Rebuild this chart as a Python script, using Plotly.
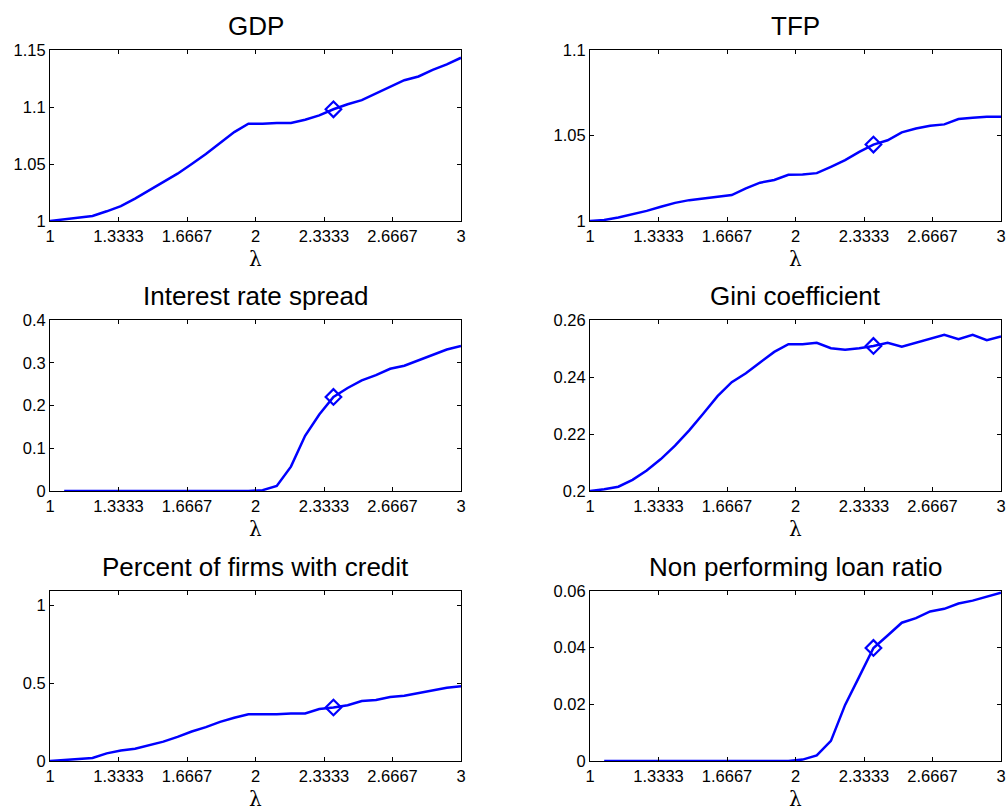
import plotly.graph_objects as go

# ---------------- data ----------------
lam = [1.0000, 1.0690, 1.1379, 1.2069, 1.2759, 1.3448, 1.4138, 1.4828, 1.5517, 1.6207,
       1.6897, 1.7586, 1.8276, 1.8966, 1.9655, 2.0345, 2.1034, 2.1724, 2.2414, 2.3103,
       2.3793, 2.4483, 2.5172, 2.5862, 2.6552, 2.7241, 2.7931, 2.8621, 2.9310, 3.0000]

gdp = [1.000, 1.0015, 1.0026, 1.0044, 1.0085, 1.0130, 1.0197, 1.0268, 1.0340, 1.0415,
       1.0500, 1.0588, 1.0685, 1.0780, 1.0853, 1.0853, 1.0860, 1.0860, 1.0888, 1.0926,
       1.0980, 1.1024, 1.1060, 1.1118, 1.1180, 1.1235, 1.1268, 1.1326, 1.1374, 1.1432]

tfp = [1.000, 1.0006, 1.0020, 1.0039, 1.0059, 1.0083, 1.0106, 1.0122, 1.0132, 1.0144,
       1.0152, 1.0191, 1.0224, 1.0240, 1.0270, 1.0272, 1.0280, 1.0317, 1.0356, 1.0404,
       1.0447, 1.0472, 1.0518, 1.0541, 1.0557, 1.0565, 1.0596, 1.0604, 1.0610, 1.0610]

spread = [None, 0.0, 0.0, 0.0, 0.0, 0.0, 0.0, 0.0, 0.0, 0.0,
          0.0, 0.0, 0.0, 0.0, 0.0, 0.002, 0.012, 0.057, 0.129, 0.179,
          0.220, 0.241, 0.259, 0.271, 0.286, 0.293, 0.306, 0.319, 0.331, 0.339]

gini = [0.2000, 0.2006, 0.2015, 0.2039, 0.2072, 0.2112, 0.2159, 0.2213, 0.2272, 0.2333,
        0.2382, 0.2413, 0.2451, 0.2488, 0.2515, 0.2515, 0.2520, 0.2501, 0.2496, 0.2501,
        0.2509, 0.2520, 0.2506, 0.2520, 0.2534, 0.2548, 0.2533, 0.2548, 0.2529, 0.2542]

credit = [0.000, 0.006, 0.013, 0.019, 0.049, 0.067, 0.079, 0.103, 0.124, 0.155,
          0.189, 0.217, 0.251, 0.277, 0.300, 0.300, 0.300, 0.305, 0.305, 0.333,
          0.343, 0.358, 0.384, 0.391, 0.410, 0.418, 0.436, 0.453, 0.470, 0.479]

npl = [None, 0.0, 0.0, 0.0, 0.0, 0.0, 0.0, 0.0, 0.0, 0.0,
       0.0, 0.0, 0.0, 0.0, 0.0, 0.0005, 0.0020, 0.0071, 0.0198, 0.0298,
       0.0399, 0.0443, 0.0488, 0.0504, 0.0528, 0.0537, 0.0556, 0.0566, 0.0580, 0.0594]

marker_index = 20  # benchmark lambda highlighted with a diamond

x_tickvals = [1, 4/3, 5/3, 2, 7/3, 8/3, 3]
x_ticktext = ["1", "1.3333", "1.6667", "2", "2.3333", "2.6667", "3"]

titles = ["GDP", "TFP", "Interest rate spread", "Gini coefficient",
          "Percent of firms with credit", "Non performing loan ratio"]
series = [gdp, tfp, spread, gini, credit, npl]
y_ranges = [[1, 1.15], [1, 1.1], [0, 0.4], [0.2, 0.26], [0, 1.09], [0, 0.06]]
y_tickvals = [[1, 1.05, 1.1, 1.15], [1, 1.05, 1.1], [0, 0.1, 0.2, 0.3, 0.4],
              [0.2, 0.22, 0.24, 0.26], [0, 0.5, 1], [0, 0.02, 0.04, 0.06]]
y_ticktext = [["1", "1.05", "1.1", "1.15"], ["1", "1.05", "1.1"],
              ["0", "0.1", "0.2", "0.3", "0.4"], ["0.2", "0.22", "0.24", "0.26"],
              ["0", "0.5", "1"], ["0", "0.02", "0.04", "0.06"]]

# ---------------- layout geometry (pixels) ----------------
W, H = 1006, 812
col_px = [(50, 461), (590, 1001)]
row_px = [(50, 221), (320, 491), (591, 761)]

FONT = "Liberation Sans, Arial, Helvetica, sans-serif"
BLUE = "#0000FF"

fig = go.Figure()
layout = dict(
    width=W, height=H, autosize=False,
    template="none",
    margin=dict(l=0, r=0, t=0, b=0, pad=0),
    paper_bgcolor="white", plot_bgcolor="white",
    showlegend=False,
    font=dict(family=FONT, color="black", size=16),
    annotations=[],
)

for k in range(6):
    r, c = divmod(k, 2)
    xa = "xaxis" if k == 0 else f"xaxis{k+1}"
    ya = "yaxis" if k == 0 else f"yaxis{k+1}"
    xref = "x" if k == 0 else f"x{k+1}"
    yref = "y" if k == 0 else f"y{k+1}"
    x0, x1 = col_px[c]
    top, bot = row_px[r]
    xdom = [x0 / W, x1 / W]
    ydom = [1 - bot / H, 1 - top / H]

    fig.add_trace(go.Scatter(x=lam, y=series[k], mode="lines",
                             line=dict(color=BLUE, width=2.5),
                             xaxis=xref, yaxis=yref, hoverinfo="skip"))
    fig.add_trace(go.Scatter(x=[lam[marker_index]], y=[series[k][marker_index]],
                             mode="markers",
                             marker=dict(symbol="diamond-open", size=12,
                                         color=BLUE, line=dict(color=BLUE, width=2.2)),
                             xaxis=xref, yaxis=yref, cliponaxis=False))

    layout[xa] = dict(domain=xdom, range=[1, 3], anchor=yref, automargin=False,
                      tickmode="array", tickvals=x_tickvals, ticktext=x_ticktext,
                      ticks="inside", ticklen=4, tickcolor="black",
                      showline=True, linecolor="black", linewidth=1, mirror="ticks",
                      showgrid=False, zeroline=False,
                      tickfont=dict(size=16.5, family=FONT, color="black"))
    layout[ya] = dict(domain=ydom, range=y_ranges[k], anchor=xref, automargin=False,
                      tickmode="array", tickvals=y_tickvals[k], ticktext=y_ticktext[k],
                      ticks="inside", ticklen=4, tickcolor="black",
                      showline=True, linecolor="black", linewidth=1, mirror="ticks",
                      showgrid=False, zeroline=False,
                      tickfont=dict(size=16.5, family=FONT, color="black"))

    cx = (x0 + x1) / 2 / W
    layout["annotations"].append(dict(
        text=titles[k], xref="paper", yref="paper", x=cx, y=1 - (top - 24) / H,
        xanchor="center", yanchor="middle", showarrow=False,
        font=dict(size=26, family=FONT, color="black")))
    layout["annotations"].append(dict(
        text="λ", xref="paper", yref="paper", x=cx, y=1 - (bot + 38) / H,
        xanchor="center", yanchor="middle", showarrow=False,
        font=dict(size=20, family="DejaVu Serif, serif", color="black")))

fig.update_layout(**layout)
fig.write_html("out.html")
